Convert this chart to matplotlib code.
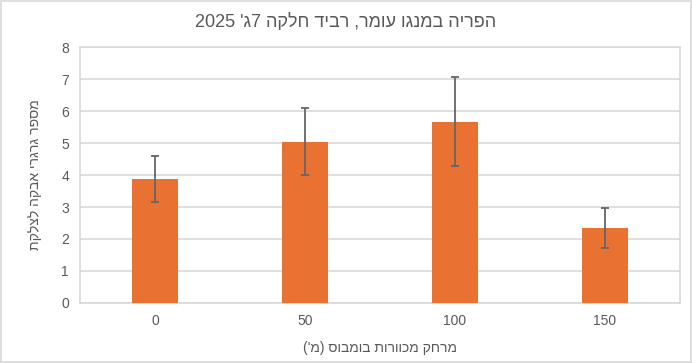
import re
import numpy as np
import matplotlib
matplotlib.use("Agg")
import matplotlib.pyplot as plt
from matplotlib.patches import Rectangle

plt.rcParams['font.family'] = ['Liberation Sans', 'DejaVu Sans']

# data
distances = ["0", "50", "100", "150"]
pollen = [3.87, 5.04, 5.67, 2.34]
err = [0.72, 1.04, 1.39, 0.62]
y_ticks = [0, 1, 2, 3, 4, 5, 6, 7, 8]

title = "הפריה במנגו עומר, רביד חלקה 7ג' 2025"
xlabel = "מרחק מכוורות בומבוס (מ')"
ylabel = "מספר גרגרי אבקה לצלקת"


def rtl(s):
    # simple visual reordering for right-to-left text
    s = s[::-1]
    s = re.sub(r"\d+", lambda m: m.group(0)[::-1], s)
    return s.translate(str.maketrans("()", ")("))


txt = "#595959"
grid = "#D9D9D9"

fig = plt.figure(figsize=(6.92, 3.63), dpi=100)
ax = fig.add_axes([0.1156, 0.1653, 0.867, 0.7052])

x = np.arange(len(distances))
ax.bar(x, pollen, width=0.31, color="#E97132", zorder=3)
ax.errorbar(x, pollen, yerr=err, fmt="none", ecolor="#666666",
            elinewidth=1.3, capsize=3, capthick=1.3, zorder=4)

ax.set_xlim(-0.5, 3.5)
ax.set_ylim(0, 8)
ax.set_yticks(y_ticks)
ax.set_xticks(x)
ax.set_xticklabels(distances)
ax.yaxis.grid(True, color=grid, linewidth=1.2, zorder=0)
ax.tick_params(length=0, colors=txt, labelsize=10, pad=8)
for sp in ax.spines.values():
    sp.set_color(grid)
    sp.set_linewidth(1.2)

ax.set_xlabel(rtl(xlabel), color=txt, fontsize=10, labelpad=9)
ax.set_ylabel(rtl(ylabel), color=txt, fontsize=10, labelpad=14)
fig.text(0.5, 0.94, rtl(title), ha="center", va="center",
         color=txt, fontsize=13)

fig.patches.append(Rectangle((0.001, 0.002), 0.997, 0.995, transform=fig.transFigure,
                             fill=False, edgecolor=grid, linewidth=1.2))

fig.savefig("out.png", dpi=100)
